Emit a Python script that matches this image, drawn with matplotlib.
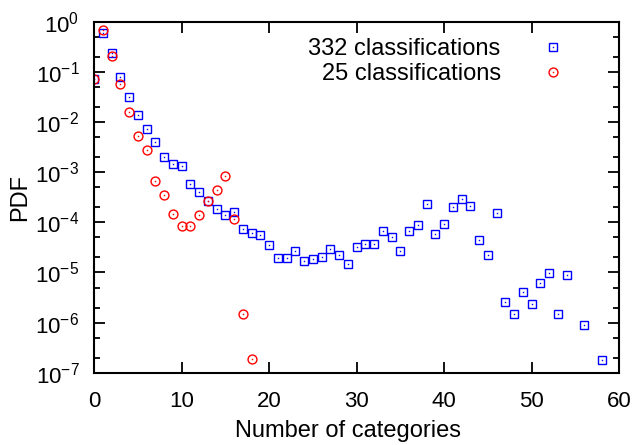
import numpy as np
import matplotlib
matplotlib.use("Agg")
import matplotlib.pyplot as plt
from matplotlib.ticker import LogLocator, NullFormatter, MultipleLocator
from matplotlib.legend_handler import HandlerTuple

plt.rcParams['font.family'] = ['Liberation Sans', 'DejaVu Sans']
plt.rcParams['mathtext.fontset'] = 'custom'
plt.rcParams['mathtext.rm'] = 'Liberation Sans'
plt.rcParams['mathtext.it'] = 'Liberation Sans:italic'
plt.rcParams['mathtext.bf'] = 'Liberation Sans:bold'

# PDF of the number of categories, 332 classifications
cats_332 = list(range(0, 55)) + [56, 58]
pdf_332 = [
    0.0715, 0.61, 0.244, 0.081, 0.032, 0.0138, 0.0074, 0.0041, 0.0020, 0.00147,
    0.00132, 5.8e-4, 4.0e-4, 2.63e-4, 1.85e-4, 1.43e-4, 1.58e-4, 7.5e-5, 6.1e-5, 5.7e-5,
    3.47e-5, 1.94e-5, 1.94e-5, 2.63e-5, 1.66e-5, 1.85e-5, 2.03e-5, 2.93e-5, 2.22e-5, 1.47e-5,
    3.3e-5, 3.75e-5, 3.75e-5, 6.7e-5, 5.0e-5, 2.67e-5, 6.6e-5, 9.0e-5, 2.37e-4, 5.9e-5,
    9.4e-5, 2.03e-4, 3.0e-4, 2.16e-4, 4.5e-5, 2.22e-5, 1.56e-4, 2.6e-6, 1.47e-6, 4.1e-6,
    2.4e-6, 6.3e-6, 9.7e-6, 1.47e-6, 8.9e-6, 9.1e-7, 1.82e-7,
]

# same, 25 classifications
cats_25 = list(range(0, 19))
pdf_25 = [
    0.0715, 0.68, 0.209, 0.057, 0.0159, 0.0054, 0.0028, 6.8e-4, 3.6e-4, 1.49e-4,
    8.6e-5, 8.6e-5, 1.43e-4, 2.63e-4, 4.5e-4, 8.6e-4, 1.17e-4, 1.48e-6, 1.86e-7,
]

labels = ["332 classifications", "25 classifications"]

fig = plt.figure(figsize=(6.36, 4.45), dpi=100)
ax = fig.add_axes([0.1478, 0.1625, 0.8255, 0.788])

sq, = ax.plot(cats_332, pdf_332, ls='none', marker='s', ms=5.8, mfc='none',
              mec='#0000ff', mew=1.0)
sq_dot, = ax.plot(cats_332, pdf_332, ls='none', marker='s', ms=1.0,
                  mfc='#0000ff', mew=0)
ci, = ax.plot(cats_25, pdf_25, ls='none', marker='o', ms=6.4, mfc='none',
              mec='#ff0000', mew=1.0)
ci_dot, = ax.plot(cats_25, pdf_25, ls='none', marker='s', ms=1.0,
                  mfc='#ff0000', mew=0)

ax.set_yscale('log')
ax.set_xlim(0, 60)
ax.set_ylim(1e-7, 1)

ax.xaxis.set_major_locator(MultipleLocator(10))
ax.yaxis.set_major_locator(LogLocator(base=10, numticks=12))
ax.yaxis.set_minor_locator(LogLocator(base=10, subs=(2.0, 5.0), numticks=12))
ax.yaxis.set_minor_formatter(NullFormatter())

ax.tick_params(which='both', direction='in', top=True, right=True, width=1.3)
ax.tick_params(which='major', length=8)
ax.tick_params(which='minor', length=4)
ax.tick_params(axis='x', labelsize=16, pad=13)
ax.tick_params(axis='y', labelsize=16, pad=10.5)
for sp in ax.spines.values():
    sp.set_linewidth(1.5)

ax.set_xlabel("Number of categories", fontsize=17)
ax.xaxis.set_label_coords(0.484, -0.135)
ax.set_ylabel("PDF", fontsize=17)
ax.yaxis.set_label_coords(-0.119, 0.5)

# text first, marker after it, right-aligned entries
ax.legend([(sq, sq_dot), (ci, ci_dot)], labels,
          handler_map={tuple: HandlerTuple(ndivide=1)},
          loc='upper right', bbox_to_anchor=(572.2 / 636, 1 - 38.1 / 445),
          bbox_transform=fig.transFigure, frameon=False, markerfirst=False,
          fontsize=17, handlelength=1.6, handletextpad=1.43,
          labelspacing=0.12, borderpad=0, borderaxespad=0)

fig.savefig("out.png", dpi=100)
